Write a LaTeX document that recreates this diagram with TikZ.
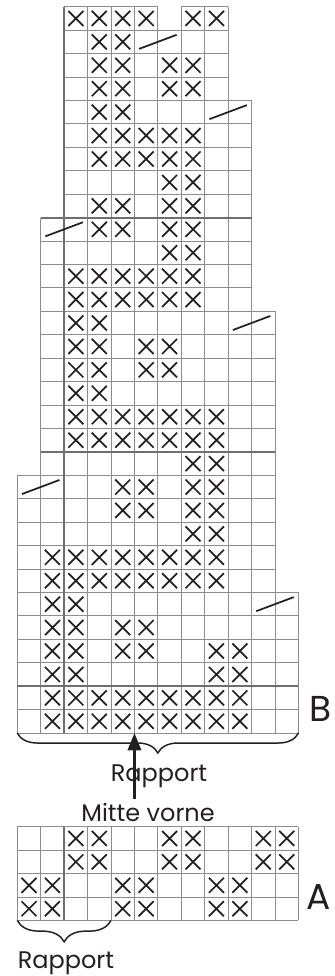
\documentclass[tikz,border=0pt]{standalone}
\usepackage{fontspec}
\setmainfont{Poppins}
\usetikzlibrary{arrows.meta,positioning,decorations.pathreplacing}

\definecolor{gridgray}{HTML}{8C8C8C}
\definecolor{thickgray}{HTML}{6E6E6E}
\definecolor{inkdark}{HTML}{231F20}

\begin{document}
\begin{tikzpicture}[
    x=17.57pt, y=-17.57pt,
    gridline/.style={draw=gridgray, line width=0.7pt},
    rapportline/.style={draw=thickgray, line width=1.6pt},
    xmark/.style={draw=inkdark, line width=1.3pt},
    slip/.style={draw=inkdark, line width=1.3pt},
    bracket/.style={draw=inkdark, line width=1.1pt, decorate,
        decoration={brace, mirror, amplitude=15pt}},
    centerarrow/.style={draw=inkdark, line width=1.9pt,
        -{Triangle[length=13pt,width=10pt]}, shorten <=3pt},
    chartlabel/.style={font=\fontsize{18}{20}\selectfont, text=inkdark, inner sep=0pt, anchor=base},
    chartname/.style={font=\fontsize{27}{30}\selectfont, text=inkdark, inner sep=0pt, anchor=base west},
    xstitch/.pic={\draw[xmark] (0.18,0.18) -- (0.82,0.82) (0.18,0.82) -- (0.82,0.18);}
]
\useasboundingbox (-0.738,-0.286) rectangle (13.559,41.371);

% top row of chart B (open above the 7th column)
\foreach \x in {2,...,9}
  \draw[gridline] (\x,0) -- (\x,1);
\draw[gridline] (2,0) -- (6,0) (7,0) -- (9,0);

% blocks of chart B, then chart A
\foreach \xa/\ya/\xb/\yb in {2/1/9/4, 2/4/10/9, 1/9/10/13, 1/13/11/20,
    0/20/11/25, 0/25/12/31, 0/35/12/39} {
  \foreach \x in {\xa,...,\xb}
    \draw[gridline] (\x,\ya) -- (\x,\yb);
  \foreach \y in {\ya,...,\yb}
    \draw[gridline] (\xa,\y) -- (\xb,\y);
}

% repeat lines
\draw[rapportline] (1,9) -- (10,9);
\draw[rapportline] (1,19) -- (11,19);
\draw[rapportline] (0,29) -- (12,29);
\draw[rapportline] (2,0) -- (2,31);
\draw[rapportline] (2,35) -- (2,39);

% stitches
\foreach \r/\cols in {0/{2,3,4,5,7,8}, 1/{3,4}, 2/{3,4,6,7}, 3/{3,4,6,7},
    4/{3,4}, 5/{3,4,5,6,7}, 6/{3,4,5,6,7}, 7/{6,7}, 8/{3,4,6,7},
    9/{3,4,6,7}, 10/{6,7}, 11/{2,3,4,5,6,7}, 12/{2,3,4,5,6,7},
    13/{2,3}, 14/{2,3,5,6}, 15/{2,3,5,6}, 16/{2,3},
    17/{2,3,4,5,6,7,8}, 18/{2,3,4,5,6,7,8}, 19/{7,8},
    20/{4,5,7,8}, 21/{4,5,7,8}, 22/{7,8},
    23/{1,2,3,4,5,6,7,8}, 24/{1,2,3,4,5,6,7,8},
    25/{1,2}, 26/{1,2,4,5}, 27/{1,2,4,5,8,9}, 28/{1,2,8,9},
    29/{1,2,3,4,5,6,7,8,9}, 30/{1,2,3,4,5,6,7,8,9},
    35/{2,3,6,7,10,11}, 36/{2,3,6,7,10,11},
    37/{0,1,4,5,8,9}, 38/{0,1,4,5,8,9}}
  \foreach \c in \cols
    \pic at (\c,\r) {xstitch};

% slipped stitches
\foreach \c/\r in {5/1, 8/4, 1/9, 9/13, 0/20, 10/25}
  \draw[slip] (\c+0.2,\r+0.8) -- (\c+1.8,\r+0.2);

% labels
\node[chartname] (nameB) at (12.46,30.52) {B};
\node[chartname] (nameA) at (12.35,38.52) {A};
\node[chartlabel] (rapportB) at (6.05,33.08) {Rapport};
\node[chartlabel] (mitte) at (5.58,34.78) {Mitte vorne};
\node[chartlabel] (rapportA) at (2.08,41.07) {Rapport};

% braces and centre arrow
\coordinate (braceBleft) at (0,31);
\coordinate (braceBright) at (12,31);
\coordinate (braceAleft) at (0,39);
\coordinate (braceAright) at (4,39);
\coordinate (front) at (5,31);
\draw[bracket] (braceBleft) -- (braceBright);
\draw[bracket, decoration={amplitude=16pt}] (braceAleft) -- (braceAright);
\draw[centerarrow] (mitte.north -| front) -- (front);

\end{tikzpicture}
\end{document}
